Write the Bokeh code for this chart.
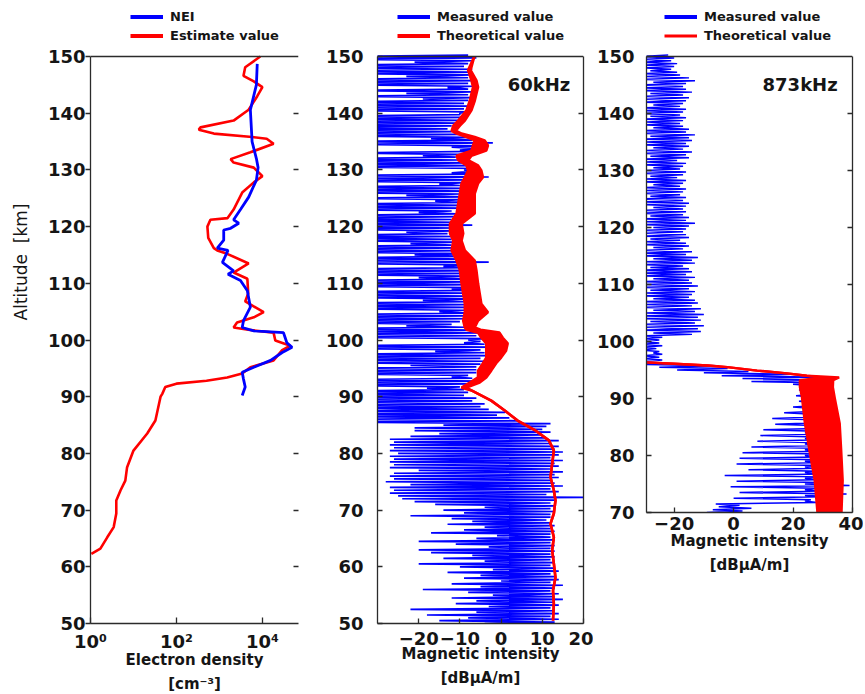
import numpy as np
from bokeh.plotting import figure
from bokeh.layouts import row
from bokeh.models import (Range1d, FixedTicker, LinearAxis, Label, Legend, LegendItem,
                          ColumnDataSource, Title, Span)
from bokeh.embed import file_html
from bokeh.resources import INLINE

FONT = "DejaVu Sans"
BLUE = "#0000ff"
RED = "#ff0000"
AX = "#2b2b2b"
TXT = "#151515"

# ---------------- Panel 1: electron density (log10 of cm^-3) ----------------
nei_alt = [90.2, 91.7, 93.1, 94.3, 95.2, 96.4, 97.8, 98.7, 99.5, 100.4, 101.3, 101.6, 102.2,
           103.4, 105.8, 108.7, 110.5, 111.6, 112.2, 113.7, 115.8, 116.2, 117.6, 119.4, 119.7,
           120.6, 121.2, 123.0, 125.2, 128.2, 130.4, 132.0, 135.0, 140.6, 145.0, 148.7]
nei_log10 = [3.53, 3.60, 3.56, 3.53, 3.80, 4.19, 4.46, 4.69, 4.57, 4.53, 4.49, 3.80, 3.53,
             3.56, 3.72, 3.65, 3.49, 3.20, 3.33, 3.07, 3.20, 2.95, 3.10, 3.10, 3.26,
             3.45, 3.33, 3.49, 3.68, 3.86, 3.90, 3.86, 3.76, 3.72, 3.86, 3.88]

est_alt = [62.3, 63.2, 65.2, 67.0, 69.4, 71.7, 73.5, 75.2, 77.5, 80.5, 83.5, 85.8, 90.0, 90.5,
           91.7, 92.3, 92.8, 93.4, 94.1, 95.2, 96.4, 98.2, 99.0, 99.9, 101.3, 101.8, 102.2,
           103.1, 104.0, 104.9, 106.8, 108.2, 110.8, 111.9, 113.5, 115.2, 115.8, 116.2, 118.0,
           120.0, 121.2, 121.5, 123.0, 126.0, 127.8, 128.9, 130.4, 131.3, 131.9, 133.1, 134.6,
           135.5, 135.8, 136.4, 137.1, 137.5, 138.7, 140.6, 143.0, 144.6, 145.6, 146.6, 148.1, 150.0]
est_log10 = [0.02, 0.23, 0.39, 0.54, 0.60, 0.60, 0.70, 0.81, 0.85, 1.00, 1.32, 1.51, 1.63, 1.67,
             1.74, 2.00, 2.70, 3.18, 3.53, 3.72, 4.26, 4.46, 4.65, 4.30, 4.26, 3.67, 3.33,
             3.41, 3.80, 4.03, 3.60, 3.67, 3.65, 3.33, 3.68, 3.18, 2.95, 2.87, 2.74,
             2.72, 2.79, 3.19, 3.33, 3.53, 3.80, 4.00, 3.80, 3.33, 3.26, 3.72, 4.26,
             4.10, 3.76, 2.87, 2.52, 2.56, 3.33, 3.68, 3.88, 4.00, 3.80, 3.56, 3.60, 3.95]

# ---------------- Panel 2: 60 kHz (dBuA/m), measured sampled every 0.5 km 50..150 ----------------
m60_lo = [
    -4, -15, -8, -18, -6, -22, -3, -11, -6, -12,
    -2, -8, -19, -5, -12, 0, -9, -5, -13, -2,
    -10, -20, -4, -14, -7, -17, -20, -3, -11, -20,
    -6, -1, -17, -9, -4, -13, -7, -12, -22, -9,
    -14, -4, -16, -21, -24, -25, -27, -26, -27, -22,
    -28, -26, -27, -26, -20, -27, -26, -27, -26, -27,
    -25, -27, -26, -27, -26, -27, -22, -15, -21, -21,
    -14, -40, -40, -40, -40, -40, -40, -40, -40, -40,
    -40, -40, -40, -18, -40, -40, -40, -12, -40, -40,
    -40, -22, -40, -40, -40, -40, -16, -40, -40, -9,
    -8, -40, -40, -40, -40, -23, -40, -40, -40, -40,
    -15, -40, -40, -40, -19, -40, -40, -40, -12, -40,
    -40, -40, -20, -40, -40, -40, -14, -40, -40, -40,
    -21, -40, -40, -40, -22, -40, -40, -40, -23, -40,
    -40, -40, -40, -40, -40, -20, -40, -40, -40, -16,
    -40, -23, -40, -40, -40, -15, -40, -40, -40, -12,
    -9, -40, -40, -40, -40, -19, -40, -10, -12, -40,
    -40, -17, -40, -40, -40, -40, -40, -40, -40, -40,
    -10, -40, -40, -40, -40, -19, -40, -23, -40, -13,
    -40, -40, -40, -23, -40, -40, -40, -40, -21, -40,
    -40]
m60_hi = [
    13, 14, 12, 14, 13, 12, 14, 13, 15, 13,
    14, 12, 13, 15, 12, 14, 13, 12, 14, 13,
    12, 13, 12, 13, 12, 13, 12, 13, 12, 13,
    12, 12, 13, 12, 13, 12, 11, 12, 12, 13,
    12, 13, 12, 13, 22, 11, 14, 12, 15, 13,
    12, 14, 13, 15, 12, 14, 13, 15, 12, 14,
    15, 13, 14, 12, 14, 11, 10, 12, 10, 11,
    12, 4, 2, -1, 1, -3, -5, -4, -7, -6,
    -9, -8, -9, -10, -7, -5, -7, -8, -6, -6,
    -6, -5, -4, -5, -3, -4, -5, -3, -4, -5,
    -4, -6, -5, -7, -9, -12, -10, -8, -9, -8,
    -9, -8, -9, -8, -7, -8, -9, -7, -8, -7,
    -8, -7, -9, -8, -6, -8, -7, -3, -8, -9,
    -8, -10, -11, -12, -11, -12, -11, -13, -12, -11,
    -7, -11, -12, -10, -11, -12, -10, -9, -8, -10,
    -9, -10, -8, -9, -10, -9, -8, -3, -6, -7,
    -5, -7, -8, -10, -11, -10, -6, -5, -4, -2,
    -7, -8, -10, -12, -13, -12, -11, -10, -9, -10,
    -8, -9, -8, -9, -8, -7, -8, -7, -8, -7,
    -8, -6, -8, -7, -8, -7, -9, -8, -7, -6,
    -8]

th60_alt = [50.5, 53.5, 55.8, 58.1, 60.6, 62.9, 65.2, 67.6, 69.4, 71.7, 73.5, 75.8, 78.2, 80.5,
            82.3, 84.0, 85.8, 87.6, 89.3, 91.1, 91.6, 92.5, 93.4, 94.6, 95.9, 96.9, 98.1, 99.4,
            100.4, 101.3, 101.8, 102.2, 103.4, 104.9, 106.4, 108.2, 110.0, 112.3, 114.0, 115.8,
            117.5, 118.8, 120.5, 122.3, 124.1, 125.8, 127.6, 128.7, 129.9, 130.8, 131.7, 132.5,
            133.4, 134.3, 135.2, 135.8, 136.4, 136.9, 137.8, 138.7, 140.5, 142.2, 144.6, 145.8,
            147.6, 150.0]
th60_lo = [12.6, 12.8, 12.6, 13.2, 12.8, 12.4, 12.8, 12.0, 12.8, 13.2, 12.8, 12.0, 12.4, 12.8,
           11.6, 8.4, 4.0, 0.8, -2.4, -7.2, -9.6, -7.6, -5.6, -5.6, -4.4, -3.6, -3.6, -3.6,
           -4.8, -5.6, -8.4, -8.8, -9.2, -8.8, -8.8, -9.2, -9.6, -10.0, -10.8, -12.0,
           -11.6, -12.4, -12.4, -10.8, -10.4, -10.0, -9.6, -8.8, -8.0, -8.4, -10.4, -10.8,
           -7.2, -6.8, -6.4, -8.4, -10.8, -12.0, -11.6, -10.4, -8.4, -7.6, -6.8, -7.2,
           -8.0, -6.5]
th60_hi = [12.6, 12.8, 12.6, 13.2, 12.8, 12.4, 12.8, 12.0, 12.8, 13.2, 12.8, 12.0, 12.4, 12.8,
           11.6, 8.4, 4.0, 0.8, -2.4, -7.2, -8.4, -5.2, -3.6, -2.4, -1.2, 0.0, 1.2, 1.6,
           0.4, -0.4, -5.0, -6.4, -5.6, -3.2, -4.8, -5.2, -5.6, -6.0, -6.4, -8.8,
           -9.6, -9.2, -9.6, -6.4, -6.4, -6.4, -5.6, -4.4, -4.8, -5.6, -8.0, -7.2,
           -3.6, -3.2, -4.0, -6.4, -9.6, -11.0, -10.0, -8.8, -7.2, -6.4, -5.6, -6.0,
           -7.4, -6.5]

# ---------------- Panel 3: 873 kHz, measured sampled every 0.5 km 70..150 ----------------
m873_lo = [
    -9, -7, -5, -6, 24, 0, 24, 2, 24, -1,
    24, 1, 24, -3, 24, 5, 24, 1, 24, 2,
    24, 3, 24, 6, 24, 8, 24, 9, 24, 10,
    24, 14, 24, 13, 24, 17, 24, 20, 24, 22,
    24, 21, 23, 22, 23, 20, 6, 3, -4, -10,
    -19, -25, -31, -31, -30, -31, -27, -31, -30, -31,
    -31, -30, -31, -27, -31, -30, -31, -28, -31, -30,
    -31, -27, -31, -30, -31, -27, -31, -30, -28, -31,
    -30, -31, -27, -31, -30, -31, -28, -31, -30, -27,
    -31, -30, -31, -27, -31, -30, -28, -31, -30, -31,
    -27, -31, -30, -31, -28, -31, -30, -27, -31, -30,
    -31, -28, -31, -30, -31, -27, -31, -30, -28, -31,
    -30, -27, -31, -30, -31, -28, -31, -30, -27, -31,
    -30, -31, -28, -31, -30, -27, -31, -30, -31, -28,
    -31, -30, -31, -27, -31, -30, -31, -28, -31, -30,
    -31, -27, -31, -30, -31, -28, -31, -30, -31, -30,
    -31]
m873_hi = [
    3, 6, 2, 28, 26, 30, 38, 29, 28, 39,
    29, 28, 29, 30, 29, 28, 29, 30, 29, 28,
    29, 30, 28, 29, 28, 29, 28, 29, 28, 28,
    27, 28, 27, 28, 27, 28, 27, 27, 27, 27,
    27, 27, 27, 27, 27, 28, 28, 30, 20, 5,
    -2, -5, -25, -24, -25, -24, -25, -26, -24, -25,
    -25, -24, -14, -11, -12, -10, -13, -11, -12, -10,
    -13, -11, -14, -12, -13, -15, -14, -13, -15, -12,
    -14, -15, -13, -16, -14, -15, -17, -13, -14, -12,
    -16, -14, -17, -15, -16, -18, -15, -16, -17, -16,
    -15, -13, -16, -15, -17, -16, -17, -16, -15, -17,
    -16, -18, -17, -16, -18, -17, -16, -19, -17, -16,
    -18, -17, -16, -19, -15, -16, -14, -17, -15, -16,
    -14, -15, -13, -16, -15, -17, -18, -17, -16, -18,
    -17, -16, -18, -17, -16, -15, -17, -14, -16, -17,
    -16, -13, -15, -18, -19, -21, -20, -19, -21, -20,
    -22]

th873_alt = [70.0, 75.6, 80.9, 85.6, 90.2, 92.0, 93.2, 93.7, 94.0, 94.4, 94.9, 95.5, 95.8, 96.1, 96.4]
th873_lo = [28.2, 27.3, 25.5, 24.0, 23.0, 22.3, 22.3, 30.0, 24.6, 17.9, 7.9, -2.1, -8.8, -20.0, -32.0]
th873_hi = [36.3, 36.7, 36.2, 35.7, 34.0, 33.4, 33.5, 35.5, 24.6, 17.9, 7.9, -2.1, -8.8, -20.0, -32.0]

alt_ticks_60 = list(range(50, 151, 10))
alt_ticks_873 = list(range(70, 151, 10))


def zigzag(lo, hi, start):
    n = min(len(lo), len(hi))
    alt = start + 0.5 * np.arange(n)
    xs = np.empty(2 * n)
    ys = np.empty(2 * n)
    xs[0::2] = lo[:n]
    xs[1::2] = hi[:n]
    ys[0::2] = alt
    ys[1::2] = alt + 0.25
    return xs, ys


def style_axis(ax, standoff, tick_in, tick_out):
    ax.major_label_text_font = FONT
    ax.major_label_text_font_style = "bold"
    ax.major_label_text_font_size = "18px"
    ax.major_label_text_color = TXT
    ax.major_label_standoff = standoff
    ax.axis_line_color = AX
    ax.axis_line_width = 1.3
    ax.major_tick_line_color = AX
    ax.major_tick_line_width = 1.3
    ax.major_tick_in = tick_in
    ax.major_tick_out = tick_out
    ax.minor_tick_line_color = None


def axis_title(ax, text, standoff, size="15px", style="bold"):
    ax.axis_label = text
    ax.axis_label_standoff = standoff
    ax.axis_label_text_font = FONT
    ax.axis_label_text_font_style = style
    ax.axis_label_text_font_size = size
    ax.axis_label_text_color = TXT


def second_line(p, text, standoff):
    p.add_layout(Title(text=text, align="center", standoff=standoff, text_font=FONT,
                       text_font_style="bold", text_font_size="15px", text_color=TXT), "below")


def bare_axis(ticks, tick_in, bounds, line=True):
    # tick marks only (minor ticks carry no labels)
    return LinearAxis(ticker=FixedTicker(ticks=[], minor_ticks=ticks), bounds=bounds,
                      major_label_standoff=0, major_tick_in=0, major_tick_out=0,
                      minor_tick_in=tick_in, minor_tick_out=0,
                      minor_tick_line_color=AX, minor_tick_line_width=1.3,
                      axis_line_color=AX if line else None, axis_line_width=1.3)


def make_legend(p, items, x, y):
    leg = Legend(items=items, location=(x, y), orientation="vertical",
                 background_fill_alpha=0, border_line_color=None, padding=0, margin=0,
                 spacing=2, glyph_width=33, glyph_height=17, label_height=17, label_standoff=7,
                 label_text_font=FONT, label_text_font_style="bold", label_text_font_size="13px",
                 label_text_color=TXT)
    p.add_layout(leg)


def top_border(p):
    p.add_layout(Span(location=150, dimension="width", line_color=AX, line_width=1.3))


TOP = 8          # the frame reaches up to the legend; the data box ends at 150 km
BOTTOM = 71
KM1 = 5.67       # px per km, panels 1-2
KM3 = 5.70       # px per km, panel 3
YTOP12 = 150 + 48 / KM1
YTOP3 = 150 + 48 / KM3

# ================= Figure 1 =================
p1 = figure(width=322, height=694, x_axis_type="log", x_range=Range1d(1, 10 ** 4.84),
            y_range=Range1d(50, YTOP12), output_backend="svg", toolbar_location=None,
            min_border_left=90, min_border_right=24, min_border_top=TOP, min_border_bottom=BOTTOM,
            outline_line_color=None, background_fill_color="white", border_fill_color="white")
p1.grid.visible = False
p1.xaxis.ticker = FixedTicker(ticks=[1, 100, 10000])
p1.xaxis.major_label_overrides = {1: "10⁰", 100: "10²", 10000: "10⁴"}
style_axis(p1.xaxis[0], 7, 6, 0)
axis_title(p1.xaxis[0], "Electron density", -4)
p1.yaxis.ticker = FixedTicker(ticks=alt_ticks_60)
p1.yaxis.bounds = (50, 150)
style_axis(p1.yaxis[0], 0, 0, 5)
axis_title(p1.yaxis[0], "\u00a0" * 20 + "Altitude \u00a0[km]", 14, size="17px", style="normal")
p1.add_layout(bare_axis(alt_ticks_60[1:-1], 5, (50, 150), False), "right")
second_line(p1, "[cm⁻³]", 3)
top_border(p1)

p1.line(10 ** np.array(est_log10), est_alt, line_color=RED, line_width=2.6)
p1.line(10 ** np.array(nei_log10), nei_alt, line_color=BLUE, line_width=2.8)
lg_nei = p1.line(x=[np.nan], y=[np.nan], line_color=BLUE, line_width=4)
lg_est = p1.line(x=[np.nan], y=[np.nan], line_color=RED, line_width=4)
make_legend(p1, [LegendItem(label="NEI", renderers=[lg_nei]),
                 LegendItem(label="Estimate value", renderers=[lg_est])], 40, 579)

# ================= Figure 2 =================
p2 = figure(width=271, height=694, x_range=Range1d(-30, 20), y_range=Range1d(50, YTOP12),
            output_backend="svg", toolbar_location=None,
            min_border_left=53, min_border_right=10, min_border_top=TOP, min_border_bottom=BOTTOM,
            outline_line_color=None, background_fill_color="white", border_fill_color="white")
p2.grid.visible = False
p2.xaxis.ticker = FixedTicker(ticks=[-20, -10, 0, 10, 20])
style_axis(p2.xaxis[0], 8, 5, 0)
axis_title(p2.xaxis[0], "Magnetic intensity", -3)
p2.yaxis.ticker = FixedTicker(ticks=alt_ticks_60)
p2.yaxis.bounds = (50, 150)
style_axis(p2.yaxis[0], 14, 5, 0)
p2.add_layout(bare_axis(alt_ticks_60[1:-1], 5, (50, 150), True), "right")
second_line(p2, "[dBμA/m]", 2)
top_border(p2)

mx, my = zigzag(m60_lo, m60_hi, 50.0)
p2.line(mx, my, line_color=BLUE, line_width=1.7)
th60 = ColumnDataSource(dict(alt=th60_alt, lo=th60_lo, hi=th60_hi))
p2.harea(x1="lo", x2="hi", y="alt", source=th60, fill_color=RED)
p2.line("lo", "alt", source=th60, line_color=RED, line_width=2.6)
p2.line("hi", "alt", source=th60, line_color=RED, line_width=2.6)
lg_m = p2.line(x=[np.nan], y=[np.nan], line_color=BLUE, line_width=4)
lg_t = p2.line(x=[np.nan], y=[np.nan], line_color=RED, line_width=4)
make_legend(p2, [LegendItem(label="Measured value", renderers=[lg_m]),
                 LegendItem(label="Theoretical value", renderers=[lg_t])], 20, 579)
p2.add_layout(Label(x=16.8, y=145.1, text="60kHz", text_align="right", text_baseline="middle",
                    text_font=FONT, text_font_style="bold", text_font_size="18px", text_color=TXT))

# ================= Figure 3 =================
p3 = figure(width=270, height=TOP + 504 + BOTTOM, x_range=Range1d(-29.3, 40), y_range=Range1d(70, YTOP3),
            output_backend="svg", toolbar_location=None,
            min_border_left=52, min_border_right=11, min_border_top=TOP, min_border_bottom=BOTTOM,
            outline_line_color=None, background_fill_color="white", border_fill_color="white")
p3.grid.visible = False
p3.xaxis.ticker = FixedTicker(ticks=[-20, 0, 20, 40])
style_axis(p3.xaxis[0], 4, 5, 0)
axis_title(p3.xaxis[0], "Magnetic intensity", -1)
p3.yaxis.ticker = FixedTicker(ticks=alt_ticks_873)
p3.yaxis.bounds = (70, 150)
style_axis(p3.yaxis[0], 12, 5, 0)
p3.add_layout(bare_axis(alt_ticks_873[1:-1], 5, (70, 150), True), "right")
second_line(p3, "[dBμA/m]", 3)
top_border(p3)

nx, ny = zigzag(m873_lo, m873_hi, 70.0)
p3.line(nx, ny, line_color=BLUE, line_width=1.5)
th873 = ColumnDataSource(dict(alt=th873_alt, lo=th873_lo, hi=th873_hi))
p3.harea(x1="lo", x2="hi", y="alt", source=th873, fill_color=RED)
p3.line("lo", "alt", source=th873, line_color=RED, line_width=2.4)
p3.line("hi", "alt", source=th873, line_color=RED, line_width=2.4)
lg_m3 = p3.line(x=[np.nan], y=[np.nan], line_color=BLUE, line_width=4)
lg_t3 = p3.line(x=[np.nan], y=[np.nan], line_color=RED, line_width=3)
make_legend(p3, [LegendItem(label="Measured value", renderers=[lg_m3]),
                 LegendItem(label="Theoretical value", renderers=[lg_t3])], 18, 468)
p3.add_layout(Label(x=35, y=145.1, text="873kHz", text_align="right", text_baseline="middle",
                    text_font=FONT, text_font_style="bold", text_font_size="18px", text_color=TXT))

layout = row(p1, p2, p3, spacing=0)
open("out.html", "w").write(file_html(layout, INLINE))
